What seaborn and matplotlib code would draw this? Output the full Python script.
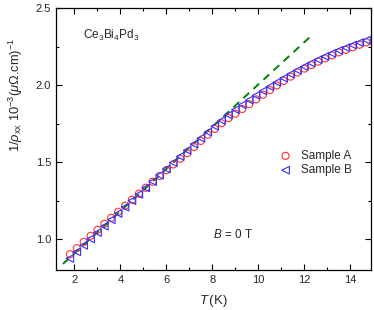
import seaborn as sns
import matplotlib
matplotlib.use("Agg")
import matplotlib.pyplot as plt
from matplotlib.ticker import MultipleLocator
import pandas as pd

# temperature grid (K)
temps = [1.8, 2.1, 2.4, 2.7, 3.0, 3.3, 3.6, 3.9, 4.2, 4.5, 4.8, 5.1, 5.4, 5.7,
         6.0, 6.3, 6.6, 6.9, 7.2, 7.5, 7.8, 8.1, 8.4, 8.7, 9.0, 9.3, 9.6, 9.9,
         10.2, 10.5, 10.8, 11.1, 11.4, 11.7, 12.0, 12.3, 12.6, 12.9, 13.2, 13.5,
         13.8, 14.1, 14.4, 14.7]

sample_a = [0.902, 0.942, 0.982, 1.022, 1.061, 1.100, 1.139, 1.178, 1.217, 1.256,
            1.295, 1.334, 1.373, 1.410, 1.448, 1.485, 1.522, 1.558, 1.598, 1.638,
            1.678, 1.716, 1.752, 1.786, 1.815, 1.845, 1.876, 1.907, 1.938, 1.968,
            1.998, 2.027, 2.055, 2.082, 2.107, 2.130, 2.152, 2.173, 2.193, 2.212,
            2.229, 2.246, 2.262, 2.277]

sample_b = [0.875, 0.918, 0.960, 1.002, 1.043, 1.084, 1.126, 1.167, 1.208, 1.250,
            1.291, 1.333, 1.374, 1.415, 1.456, 1.497, 1.537, 1.577, 1.617, 1.656,
            1.695, 1.733, 1.770, 1.806, 1.840, 1.872, 1.903, 1.933, 1.962, 1.990,
            2.018, 2.045, 2.071, 2.096, 2.120, 2.143, 2.165, 2.186, 2.206, 2.225,
            2.243, 2.260, 2.276, 2.291]

# linear guide
fit_t = [1.5, 12.3]
fit_y = [0.84, 2.32]

sns.set_theme(style="ticks")
plt.rcParams["font.family"] = ["Liberation Sans", "DejaVu Sans"]
plt.rcParams["mathtext.fontset"] = "custom"
plt.rcParams["mathtext.rm"] = "Liberation Sans"
plt.rcParams["mathtext.it"] = "Liberation Sans:italic"
plt.rcParams["mathtext.sf"] = "Liberation Sans"

df_a = pd.DataFrame({"T": temps, "y": sample_a})
df_b = pd.DataFrame({"T": temps, "y": sample_b})
df_fit = pd.DataFrame({"T": fit_t, "y": fit_y})

fig = plt.figure(figsize=(3.74, 3.10), dpi=100)
ax = fig.add_axes([0.150, 0.129, 0.842, 0.845])

sns.lineplot(data=df_fit, x="T", y="y", ax=ax, color="#008000",
             linestyle=(0, (4, 3)), linewidth=1.4)
sns.scatterplot(data=df_a, x="T", y="y", ax=ax, marker="o", s=26,
                color="#ff3030", facecolor="none", edgecolor="#ff3030",
                linewidth=0.8, label="Sample A", zorder=3)
sns.scatterplot(data=df_b, x="T", y="y", ax=ax, marker="<", s=30,
                color="#3030ff", facecolor="none", edgecolor="#3030ff",
                linewidth=0.8, label="Sample B", zorder=3)

ax.set_xlim(1.2, 14.9)
ax.set_ylim(0.8, 2.5)
ax.xaxis.set_major_locator(MultipleLocator(2))
ax.xaxis.set_minor_locator(MultipleLocator(1))
ax.yaxis.set_major_locator(MultipleLocator(0.5))
ax.yaxis.set_minor_locator(MultipleLocator(0.25))
ax.yaxis.set_major_formatter(matplotlib.ticker.FormatStrFormatter("%.1f"))
ax.tick_params(which="both", direction="in", top=True, right=True,
               labelsize=8, width=0.8, color="black")
ax.tick_params(which="major", length=4)
ax.tick_params(which="minor", length=2.5)
for sp in ax.spines.values():
    sp.set_linewidth(0.9)
    sp.set_color("black")

ax.set_xlabel(r"$T\,$(K)", fontsize=9.5)
ax.set_ylabel(r"1/$\rho_{\rm xx}$ 10$^{-3}$($\mu\Omega$.cm)$^{-1}$", fontsize=9.3)
ax.xaxis.set_label_coords(0.5, -0.088)
ax.yaxis.set_label_coords(-0.10, 0.67)

ax.text(0.086, 0.897, r"Ce$_3$Bi$_4$Pd$_3$", transform=ax.transAxes,
        fontsize=8.5, va="center", ha="left")
ax.text(0.498, 0.134, "$B$ = 0 T", transform=ax.transAxes,
        fontsize=8.5, va="center", ha="left")

ax.legend(loc="upper left", bbox_to_anchor=(0.665, 0.49), frameon=False,
          fontsize=8.5, handletextpad=0.3, labelspacing=0.2, borderpad=0.2)

fig.savefig("out.png", dpi=100)
